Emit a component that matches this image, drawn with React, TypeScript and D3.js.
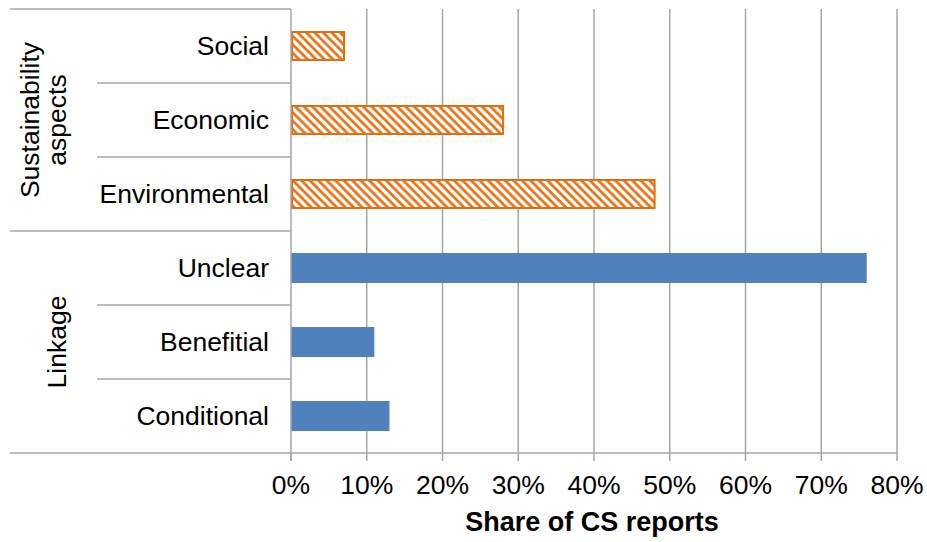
import React from "react";
import * as d3 from "d3";

const categories = ["Social", "Economic", "Environmental", "Unclear", "Benefitial", "Conditional"];
const values = [0.07, 0.28, 0.48, 0.76, 0.11, 0.13];
const groups = ["Sustainability", "Sustainability", "Sustainability", "Linkage", "Linkage", "Linkage"];
const groupLabels = [["Sustainability", "aspects"], ["Linkage"]];
const ticks = [0, 0.1, 0.2, 0.3, 0.4, 0.5, 0.6, 0.7, 0.8];
const axisTitle = "Share of CS reports";

const W = 927, H = 542;
const left = 291, right = 897, top = 9, bottom = 453;
const ORANGE = "#E46C0A";
const BLUE = "#4F81BD";
const GRID = "#A6A6A6";
const FONT = "'Liberation Sans', Arial, sans-serif";
const FS = 26.5;

export default function App() {
  const x = d3.scaleLinear().domain([0, 0.8]).range([left, right]);
  const y = d3.scaleBand<string>().domain(categories).range([top, bottom]).paddingInner(0.595).paddingOuter(0.2975);
  const step = y.step();
  const fmt = d3.format(".0%");
  const groupNames = Array.from(new Set(groups));
  return (
    <svg width={W} height={H} style={{ position: "absolute", left: 0, top: 0, background: "#fff" }}>
      <defs>
        <pattern id="hatch" patternUnits="userSpaceOnUse" width={6} height={6} patternTransform="rotate(-45)">
          <rect width={6} height={6} fill="#fff" />
          <line x1={1.5} y1={0} x2={1.5} y2={6} stroke={ORANGE} strokeWidth={2.6} />
        </pattern>
      </defs>
      {ticks.slice(1).map((t) => (
        <line key={"g" + t} x1={x(t)} x2={x(t)} y1={top} y2={bottom} stroke={GRID} strokeWidth={1.5} />
      ))}
      {categories.map((c, i) => {
        const isHatch = groups[i] === "Sustainability";
        const bx = x(0);
        const w = x(values[i]) - x(0);
        const by = y(c)!;
        const bh = y.bandwidth();
        return isHatch ? (
          <rect key={c} x={bx + 1} y={by + 1} width={w - 1} height={bh - 2} fill="url(#hatch)" stroke={ORANGE} strokeWidth={2} />
        ) : (
          <rect key={c} x={bx} y={by} width={w} height={bh} fill={BLUE} />
        );
      })}
      <line x1={10} x2={right} y1={bottom} y2={bottom} stroke={GRID} strokeWidth={1.5} />
      {ticks.map((t) => (
        <g key={"t" + t}>
          <line x1={x(t)} x2={x(t)} y1={bottom} y2={bottom + 8} stroke={GRID} strokeWidth={1.5} />
          <text x={x(t)} y={494} textAnchor="middle" fontFamily={FONT} fontSize={FS} fill="#000">
            {fmt(t)}
          </text>
        </g>
      ))}
      <text x={(left + right) / 2 - 2} y={531} textAnchor="middle" fontFamily={FONT} fontSize={27} fontWeight="bold" fill="#000">
        {axisTitle}
      </text>
      <line x1={left} x2={left} y1={top} y2={bottom + 8} stroke={GRID} strokeWidth={1.5} />
      <line x1={10} x2={left} y1={top} y2={top} stroke={GRID} strokeWidth={1.5} />
      {categories.map((c, i) => {
        const yb = top + step * (i + 1);
        const isGroupEnd = i === categories.length - 1 || groups[i] !== groups[i + 1];
        return (
          <g key={"c" + c}>
            <text x={269} y={y(c)! + y.bandwidth() / 2} dy="0.35em" textAnchor="end" fontFamily={FONT} fontSize={FS} fill="#000">
              {c}
            </text>
            {i < categories.length - 1 && (
              <line x1={isGroupEnd ? 10 : 97} x2={left} y1={yb} y2={yb} stroke={GRID} strokeWidth={1.5} />
            )}
          </g>
        );
      })}
      {groupNames.map((g, gi) => {
        const idx = categories.filter((_, i) => groups[i] === g);
        const y0 = y(idx[0])! - (step - y.bandwidth()) / 2;
        const y1 = y(idx[idx.length - 1])! + y.bandwidth() + (step - y.bandwidth()) / 2;
        const cy = (y0 + y1) / 2;
        const lines = groupLabels[gi];
        const baseX = 66 - (lines.length - 1) * 27;
        return (
          <text key={"grp" + g} transform={`translate(0,${cy}) rotate(-90)`} textAnchor="middle" fontFamily={FONT} fontSize={FS} fill="#000">
            {lines.map((l, li) => (
              <tspan key={l} x={0} y={baseX + li * 27}>
                {l}
              </tspan>
            ))}
          </text>
        );
      })}
    </svg>
  );
}
